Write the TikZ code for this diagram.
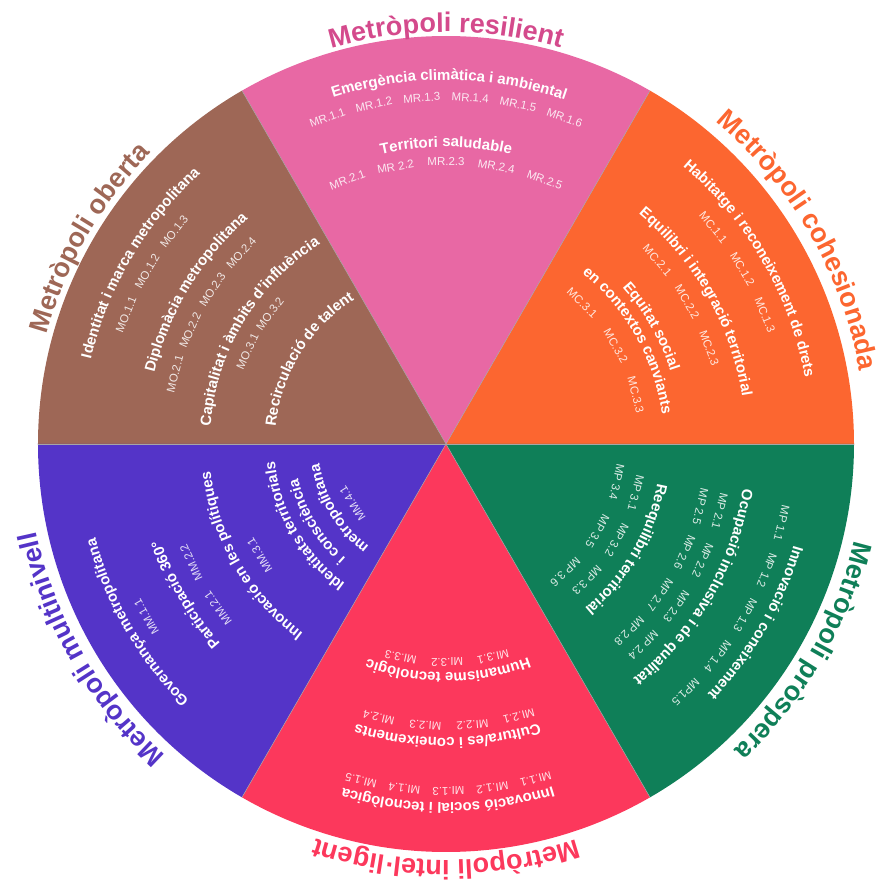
\documentclass[tikz,border=0pt]{standalone}
\usepackage{fontspec}
\setmainfont{Liberation Sans}
\usetikzlibrary{decorations.text}
\definecolor{cpink}{HTML}{E868A4}
\definecolor{tpink}{HTML}{D44A8C}
\definecolor{corange}{HTML}{FC6630}
\definecolor{cgreen}{HTML}{0F7F58}
\definecolor{cred}{HTML}{FC385C}
\definecolor{cpurple}{HTML}{5434C8}
\definecolor{cbrown}{HTML}{9E6756}
\tikzset{
  lbl/.style={text=white, text opacity=0.85, font=\fontsize{11.5}{13}\selectfont, inner sep=0pt},
  sep/.style={draw=gray!70, line width=0.5pt}
}
% title along arc: baseline radius, mid angle, colour, text
\newcommand\ttl[4]{\path[decorate,decoration={text along path,text align=center,
  text={|\fontsize{27}{32}\selectfont\bfseries\color{#3}|#4}}]
  (#2+85:#1pt) arc[start angle=#2+85,end angle=#2-85,radius=#1pt];}
% heading along arc: baseline radius, mid angle, text
\newcommand\hd[3]{\path[decorate,decoration={text along path,text align=center,
  text={|\fontsize{15}{18}\selectfont\bfseries\color{white}|#3}}]
  (#2+85:#1pt) arc[start angle=#2+85,end angle=#2-85,radius=#1pt];}
% code label: name, radius, angle, text
\newcommand\lab[4]{\node (#1) [lbl, rotate=#3-90] at (#3:#2pt) {#4};}
\begin{document}
\begin{tikzpicture}
\useasboundingbox (-446pt,-450pt) rectangle (437pt,444pt);
\coordinate (c) at (0,0);
% sectors
\fill[corange] (c) -- (0:408pt) arc[start angle=0,end angle=60,radius=408pt] -- cycle;
\fill[cpink] (c) -- (60:408pt) arc[start angle=60,end angle=120,radius=408pt] -- cycle;
\fill[cbrown] (c) -- (120:408pt) arc[start angle=120,end angle=180,radius=408pt] -- cycle;
\fill[cpurple] (c) -- (180:408pt) arc[start angle=180,end angle=240,radius=408pt] -- cycle;
\fill[cred] (c) -- (240:408pt) arc[start angle=240,end angle=300,radius=408pt] -- cycle;
\fill[cgreen] (c) -- (300:408pt) arc[start angle=300,end angle=360,radius=408pt] -- cycle;
\foreach \a in {0,60,...,300} { \coordinate (e\a) at (\a:408pt); \draw[sep] (c) -- (e\a); }

% --- Metropoli resilient
\ttl{412}{90}{tpink}{Metròpoli resilient}
\hd{364}{89.5}{Emergència climàtica i ambiental}
\lab{mr11}{347}{110}{MR.1.1}
\lab{mr12}{347}{102}{MR.1.2}
\lab{mr13}{347}{94}{MR.1.3}
\lab{mr14}{347}{86}{MR.1.4}
\lab{mr15}{347}{78}{MR.1.5}
\lab{mr16}{347}{70}{MR.1.6}
\hd{297}{90}{Territori saludable}
\lab{mr21}{282}{110.5}{MR.2.1}
\lab{mr22}{282}{100.3}{MR 2.2}
\lab{mr23}{282}{90}{MR.2.3}
\lab{mr24}{282}{79.7}{MR.2.4}
\lab{mr25}{282}{69.5}{MR.2.5}

% --- Metropoli oberta
\ttl{414}{150}{cbrown}{Metròpoli oberta}
\hd{365}{149.4}{Identitat i marca metropolitana}
\lab{mo11}{345}{158}{MO.1.1}
\lab{mo12}{345}{150}{MO.1.2}
\lab{mo13}{345}{142}{MO.1.3}
\hd{300}{148.8}{Diplomàcia metropolitana}
\lab{mo21}{280}{165.5}{MO.2.1}
\lab{mo22}{280}{156}{MO.2.2}
\lab{mo23}{280}{146.5}{MO.2.3}
\lab{mo24}{280}{137}{MO.2.4}
\hd{236}{149}{Capitalitat i àmbits d'influència}
\lab{mo31}{219}{155}{MO.3.1}
\lab{mo32}{219}{143.5}{MO.3.2}
\hd{171}{148.3}{Recirculació de talent}

% --- Metropoli cohesionada
\ttl{420}{30}{corange}{Metròpoli cohesionada}
\hd{365}{30}{Habitatge i reconeixement de drets}
\lab{mc11}{344}{39}{MC.1.1}
\lab{mc12}{344}{30.5}{MC.1.2}
\lab{mc13}{344}{22}{MC.1.3}
\hd{300}{29.6}{Equilibri i integració territorial}
\lab{mc21}{280}{41}{MC.2.1}
\lab{mc22}{280}{30.5}{MC.2.2}
\lab{mc23}{280}{20}{MC.2.3}
\hd{236}{29.8}{Equitat social}
\hd{218}{29.6}{en contextos canviants}
\lab{mc31}{196}{46}{MC.3.1}
\lab{mc32}{196}{30}{MC.3.2}
\lab{mc33}{196}{14.5}{MC.3.3}

% --- Metropoli prospera
\ttl{420}{-30}{cgreen}{Metròpoli pròspera}
\hd{362}{-30}{Innovació i coneixement}
\lab{mp11}{345}{-13.3}{MP 1.1}
\lab{mp12}{345}{-21.5}{MP 1.2}
\lab{mp13}{345}{-29.8}{MP 1.3}
\lab{mp14}{345}{-38}{MP 1.4}
\lab{mp15}{345}{-46}{MP1.5}
\hd{300}{-30}{Ocupació inclusiva i de qualitat}
\lab{mp21}{282}{-13.8}{MP 2.1}
\lab{mp22}{282}{-24.4}{MP 2.2}
\lab{mp23}{282}{-35.2}{MP 2.3}
\lab{mp24}{282}{-45.6}{MP 2.4}
\lab{mp25}{262}{-13.8}{MP 2.5}
\lab{mp26}{262}{-24.4}{MP 2.6}
\lab{mp27}{262}{-35.2}{MP 2.7}
\lab{mp28}{262}{-45.6}{MP 2.8}
\hd{215}{-30.2}{Reequilibri territorial}
\lab{mp31}{196}{-14.4}{MP 3.1}
\lab{mp32}{196}{-29.3}{MP 3.2}
\lab{mp33}{196}{-44}{MP 3.3}
\lab{mp34}{175}{-12.5}{MP 3.4}
\lab{mp35}{175}{-30}{MP 3.5}
\lab{mp36}{175}{-47}{MP 3.6}

% --- Metropoli intel.ligent
\ttl{416}{-90}{cred}{Metròpoli intel·ligent}
\hd{359}{-89.7}{Innovació social i tecnològica}
\lab{mi11}{347}{-75}{MI.1.1}
\lab{mi12}{347}{-82.3}{MI.1.2}
\lab{mi13}{347}{-89.6}{MI.1.3}
\lab{mi14}{347}{-96.9}{MI.1.4}
\lab{mi15}{347}{-104.2}{MI.1.5}
\hd{294}{-89.7}{Cultura/es i coneixements}
\lab{mi21}{282}{-75}{MI.2.1}
\lab{mi22}{282}{-84.6}{MI.2.2}
\lab{mi23}{282}{-94.2}{MI.2.3}
\lab{mi24}{282}{-103.8}{MI.2.4}
\hd{229}{-89.5}{Humanisme tecnològic}
\lab{mi31}{218}{-77.5}{MI.3.1}
\lab{mi32}{218}{-89.7}{MI.3.2}
\lab{mi33}{218}{-102}{MI.3.3}

% --- Metropoli multinivell
\ttl{419}{210}{cpurple}{Metròpoli multinivell}
\hd{363}{210}{Governança metropolitana}
\lab{mm11}{346}{210}{MM.1.1}
\hd{301}{210}{Participació 360°}
\lab{mm21}{281}{215.7}{MM.2.1}
\lab{mm22}{281}{204.9}{MM.2.2}
\hd{237}{209.8}{Innovació en les polítiques}
\lab{mm31}{217}{210.8}{MM.3.1}
\hd{172}{210}{Identitats territorials}
\hd{152}{211}{i consciència}
\hd{128}{211}{metropolitana}
\lab{mm41}{111}{212.5}{MM.4.1}
\end{tikzpicture}
\end{document}
